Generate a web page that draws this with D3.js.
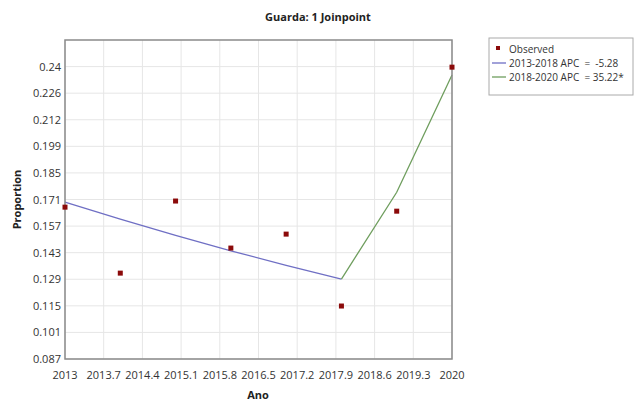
<!DOCTYPE html>
<html>
<head>
<meta charset="utf-8">
<script src="https://d3js.org/d3.v7.min.js"></script>
<style>
  body { margin: 0; background: #fff; }
  svg { font-family: "Open Sans", "Noto Sans", sans-serif; }
</style>
</head>
<body>
<svg id="chart" width="636" height="403"></svg>
<script>
// Observed proportions, one per year
const years = [2013, 2014, 2015, 2016, 2017, 2018, 2019, 2020];
const observed = [0.1664, 0.1319, 0.1696, 0.1450, 0.1523, 0.1147, 0.1643, 0.2396];

// Joinpoint fitted segments
const seg1Years = [2013, 2014, 2015, 2016, 2017, 2018];
const seg1Fit = [0.1690, 0.1601, 0.1516, 0.1436, 0.1360, 0.1288];
const seg2Years = [2018, 2019, 2020];
const seg2Fit = [0.1288, 0.1742, 0.2355];

const xTicks = [2013, 2013.7, 2014.4, 2015.1, 2015.8, 2016.5, 2017.2, 2017.9, 2018.6, 2019.3, 2020];
const yTicks = [0.087, 0.101, 0.115, 0.129, 0.143, 0.157, 0.171, 0.185, 0.199, 0.212, 0.226, 0.24];
const legendLabels = ["Observed", "2013-2018 APC  =  -5.28", "2018-2020 APC  = 35.22*"];

const svg = d3.select("#chart");
const pLeft = 65, pRight = 452, pTop = 40, pBottom = 359;

const x = d3.scaleLinear().domain([2013, 2020]).range([pLeft, pRight]);
// ticks are spaced every 0.0139
const y = d3.scaleLinear().domain([0.087, 0.087 + 12 * 0.0139]).range([pBottom, pTop]);
const yPos = (v, i) => y(0.087 + i * 0.0139);

// grid
svg.append("g").selectAll("line")
  .data(xTicks).enter().append("line")
  .attr("x1", d => x(d)).attr("x2", d => x(d))
  .attr("y1", pTop).attr("y2", pBottom)
  .attr("stroke", "#e6e6e6").attr("stroke-width", 1);

svg.append("g").selectAll("line")
  .data(yTicks).enter().append("line")
  .attr("x1", pLeft).attr("x2", pRight)
  .attr("y1", (d, i) => yPos(d, i)).attr("y2", (d, i) => yPos(d, i))
  .attr("stroke", "#e6e6e6").attr("stroke-width", 1);

// tick labels
svg.append("g").selectAll("text")
  .data(yTicks).enter().append("text")
  .attr("x", pLeft - 4).attr("y", (d, i) => yPos(d, i) + 4)
  .attr("text-anchor", "end")
  .attr("font-size", 11).attr("fill", "#333")
  .text(d => d);

svg.append("g").selectAll("text")
  .data(xTicks).enter().append("text")
  .attr("x", d => x(d)).attr("y", pBottom + 20)
  .attr("text-anchor", "middle")
  .attr("font-size", 11).attr("fill", "#333")
  .text(d => d);

// fitted lines
const line = d3.line().x(d => x(d[0])).y(d => y(d[1]));
svg.append("path")
  .datum(d3.zip(seg1Years, seg1Fit))
  .attr("d", line).attr("fill", "none")
  .attr("stroke", "#6f6fc4").attr("stroke-width", 1.3);
svg.append("path")
  .datum(d3.zip(seg2Years, seg2Fit))
  .attr("d", line).attr("fill", "none")
  .attr("stroke", "#6f9e5e").attr("stroke-width", 1.3);

// plot border
svg.append("rect")
  .attr("x", pLeft).attr("y", pTop)
  .attr("width", pRight - pLeft).attr("height", pBottom - pTop)
  .attr("fill", "none").attr("stroke", "#8a8a8a").attr("stroke-width", 1.5);

// observed points
svg.append("g").selectAll("rect")
  .data(d3.zip(years, observed)).enter().append("rect")
  .attr("x", d => x(d[0]) - 2.5).attr("y", d => y(d[1]) - 2.5)
  .attr("width", 5).attr("height", 5)
  .attr("fill", "#8b0a0a");

// titles
svg.append("text")
  .attr("x", 318).attr("y", 21)
  .attr("text-anchor", "middle")
  .attr("font-size", 11).attr("font-weight", "bold").attr("fill", "#222")
  .text("Guarda: 1 Joinpoint");

svg.append("text")
  .attr("transform", "translate(21," + ((pTop + pBottom) / 2) + ") rotate(-90)")
  .attr("text-anchor", "middle")
  .attr("font-size", 11).attr("font-weight", "bold").attr("fill", "#222")
  .text("Proportion");

svg.append("text")
  .attr("x", 258).attr("y", 399)
  .attr("text-anchor", "middle")
  .attr("font-size", 11).attr("font-weight", "bold").attr("fill", "#222")
  .text("Ano");

// legend
const lg = svg.append("g").attr("transform", "translate(489,38)");
lg.append("rect")
  .attr("width", 144).attr("height", 57)
  .attr("fill", "#fff").attr("stroke", "#aaa").attr("stroke-width", 1);
lg.append("rect")
  .attr("x", 7).attr("y", 8).attr("width", 4).attr("height", 4)
  .attr("fill", "#8b0a0a");
const lineColors = ["#6f6fc4", "#6f9e5e"];
lineColors.forEach((c, i) => {
  lg.append("line")
    .attr("x1", 3).attr("x2", 17)
    .attr("y1", 25 + i * 14).attr("y2", 25 + i * 14)
    .attr("stroke", c).attr("stroke-width", 1.3);
});
lg.selectAll("text")
  .data(legendLabels).enter().append("text")
  .attr("x", 20).attr("y", (d, i) => 15 + i * 14)
  .attr("font-size", 10).attr("fill", "#333")
  .style("white-space", "pre")
  .text(d => d);
</script>
</body>
</html>
